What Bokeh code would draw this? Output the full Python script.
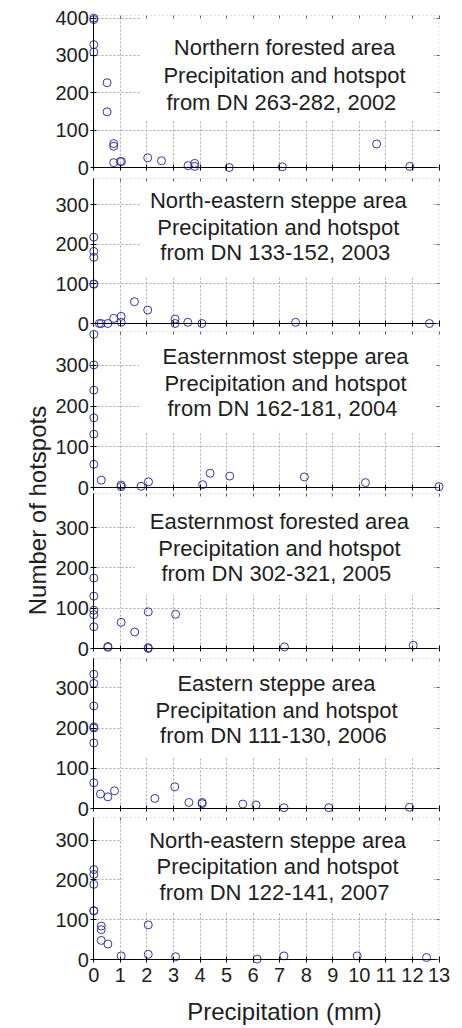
import math
from bokeh.plotting import figure
from bokeh.models import Range1d, FixedTicker, Label, BoxAnnotation, LinearAxis, Grid
from bokeh.embed import file_html
from bokeh.resources import INLINE

# ---------------- data ----------------
p1_precip = [0, 0, 0, 0, 0.5, 0.5, 0.75, 0.75, 0.75, 1.0, 1.04, 2.03, 2.55, 3.55, 3.8, 3.8, 5.1, 7.1, 10.65, 11.9]
p1_hot = [400, 396, 329, 309, 227, 149, 64, 57, 13, 16, 16, 26, 18, 5, 11, 3, 0, 2, 63, 3]

p2_precip = [0, 0, 0, 0, 0, 0.21, 0.28, 0.53, 0.75, 1.03, 1.03, 1.53, 2.03, 3.06, 3.06, 3.54, 4.07, 7.6, 12.64]
p2_hot = [218, 182, 167, 100, 99, 0, 0, 0, 13, 18, 3, 55, 34, 11, 0, 3, 0, 3, 0]

p3_precip = [0, 0, 0, 0, 0, 0, 0.28, 1.03, 1.03, 1.78, 2.06, 4.1, 4.38, 5.12, 7.93, 10.23, 13.0]
p3_hot = [376, 301, 239, 171, 131, 57, 18, 6, 2, 3, 14, 7, 35, 28, 26, 12, 2]

p4_precip = [0, 0, 0, 0, 0, 0.53, 0.53, 1.03, 1.54, 2.05, 2.05, 2.05, 3.08, 7.18, 12.03]
p4_hot = [175, 130, 95, 84, 54, 5, 3, 65, 41, 91, 2, 0, 85, 4, 8]

p5_precip = [0, 0, 0, 0, 0, 0, 0, 0.25, 0.53, 0.78, 2.3, 3.05, 3.58, 4.08, 4.08, 5.61, 6.11, 7.16, 8.85, 11.89]
p5_hot = [334, 311, 255, 203, 200, 163, 64, 36, 29, 44, 25, 54, 15, 15, 12, 11, 9, 2, 2, 3]

p6_precip = [0, 0, 0, 0, 0, 0.28, 0.28, 0.28, 0.53, 1.03, 2.05, 2.05, 3.08, 6.15, 7.16, 9.92, 12.53]
p6_hot = [226, 214, 189, 123, 122, 84, 75, 48, 39, 9, 87, 13, 7, 1, 9, 9, 5]

titles = [
    ["Northern forested area", "Precipitation and hotspot", "from DN 263-282,  2002"],
    ["North-eastern steppe area", "Precipitation and hotspot", "from DN 133-152,  2003"],
    ["Easternmost steppe area", "Precipitation and hotspot", "from DN 162-181,  2004"],
    ["Easternmost forested area", "Precipitation and hotspot", "from DN 302-321,  2005"],
    ["Eastern steppe area", "Precipitation and hotspot", "from DN 111-130,  2006"],
    ["North-eastern steppe area", "Precipitation and hotspot", "from DN 122-141,  2007"],
]

x_ticks = list(range(0, 14))
y_ticks_first = [0, 100, 200, 300, 400]
y_ticks_other = [0, 100, 200, 300]
x_label = "Precipitation (mm)"
y_label = "Number of hotspots"

series = [(p1_precip, p1_hot), (p2_precip, p2_hot), (p3_precip, p3_hot),
          (p4_precip, p4_hot), (p5_precip, p5_hot), (p6_precip, p6_hot)]

# ---------------- layout geometry (pixels) ----------------
W, H = 462, 1028
FONT = "Liberation Sans"
TXT = "#1e1e1e"
MARK = "#3535a0"
GRID = "#a8a8a8"
BORDER = "#8a8a8a"

X0_PX, X13_PX = 93.3, 438.5           # pixel of x=0 and x=13
XMAX = 13
sx = (X13_PX - X0_PX) / XMAX

# per panel: pixel of y=ymax (top), pixel of y=0, ymax
geo = [
    (15, 167, 407),
    (178, 323, 366),
    (331, 487, 383),
    (493, 648, 385),
    (658, 808, 373),
    (817, 959, 357),
]
label_x = [7.18, 6.95, 7.22, 6.99, 6.88, 6.92]
label_y = [(321, 246, 174), (310, 243, 180), (321, 255, 194),
           (316, 248, 186), (311, 244, 182), (300, 233, 168)]
boxes = [(1.8, 12.8, 125), (1.8, 12.8, 117), (1.7, 12.93, 137),
         (1.55, 12.8, 132), (1.07, 12.8, 125), (1.07, 12.8, 120)]

p = figure(width=W, height=H,
           x_range=Range1d(-X0_PX / sx, (W - X0_PX) / sx),
           y_range=Range1d(0, H),
           toolbar_location=None, output_backend="svg",
           x_axis_location=None, y_axis_location=None, min_border=0)
p.min_border_left = 0
p.min_border_right = 0
p.min_border_top = 0
p.min_border_bottom = 0
p.grid.visible = False
p.outline_line_color = None
p.background_fill_color = "white"
p.border_fill_color = "white"

extra = {}
for i, (top, zero, ymax) in enumerate(geo):
    k = (zero - top) / ymax
    extra[f"p{i}"] = Range1d(start=(zero - H) / k, end=zero / k)
p.extra_y_ranges = extra


def make_grid(dim, ticks, name, cross):
    try:
        g = Grid(dimension=dim, ticker=FixedTicker(ticks=ticks), y_range_name=name,
                 cross_bounds=cross, grid_line_color=GRID, grid_line_dash="2 2",
                 grid_line_width=1)
        p.add_layout(g)
    except Exception:
        if dim == 0:
            p.segment(x0=ticks, y0=[cross[0]] * len(ticks), x1=ticks,
                      y1=[cross[1]] * len(ticks), y_range_name=name,
                      line_color=GRID, line_dash="2 2", line_width=1, level="underlay")
        else:
            p.segment(x0=[cross[0]] * len(ticks), y0=ticks, x1=[cross[1]] * len(ticks),
                      y1=ticks, y_range_name=name,
                      line_color=GRID, line_dash="2 2", line_width=1, level="underlay")


def tick_only_axis(name, loc, bounds, ticks):
    ax = LinearAxis(y_range_name=name, fixed_location=loc, bounds=bounds,
                    ticker=FixedTicker(ticks=ticks))
    ax.axis_line_color = None
    ax.major_tick_line_color = "#666666"
    ax.major_tick_in = 3
    ax.major_tick_out = 0
    ax.minor_tick_line_color = None
    ax.minor_tick_in = 0
    ax.minor_tick_out = 0
    ax.major_label_text_color = None
    ax.major_label_text_font_size = "1px"
    ax.major_label_standoff = 0
    return ax


for i, ((xs, ys), (top, zero, ymax)) in enumerate(zip(series, geo)):
    name = f"p{i}"
    yt = y_ticks_first if i == 0 else y_ticks_other

    make_grid(0, x_ticks[1:-1], name, (0, ymax))
    make_grid(1, [t for t in yt if t > 0], name, (0, XMAX))

    bl, br, bb = boxes[i]
    p.add_layout(BoxAnnotation(left=bl, right=br, bottom=bb, top=ymax,
                               y_range_name=name,
                               fill_color="white", fill_alpha=1.0,
                               line_color=None, level="underlay"))
    p.add_layout(BoxAnnotation(left=0, right=XMAX, bottom=0, top=ymax,
                               y_range_name=name,
                               fill_color=None, fill_alpha=0,
                               line_color=BORDER, line_dash="2 2",
                               line_width=1, level="underlay"))

    # small inward ticks on the top and right borders (boxed axes)
    p.add_layout(tick_only_axis(name, ymax, (0, XMAX), x_ticks), "above")
    p.add_layout(tick_only_axis(name, XMAX, (0, ymax), yt), "right")

    p.scatter(xs, ys, marker="circle", size=8, fill_color=None,
              line_color=MARK, line_width=1, y_range_name=name)

    yax = LinearAxis(y_range_name=name, fixed_location=0, bounds=(0, ymax),
                     ticker=FixedTicker(ticks=yt))
    yax.axis_line_color = "black"
    yax.major_tick_line_color = "black"
    yax.major_tick_in = 3
    yax.major_tick_out = 3
    yax.minor_tick_line_color = None
    yax.minor_tick_in = 0
    yax.minor_tick_out = 0
    yax.major_label_standoff = 2
    yax.major_label_text_font = FONT
    yax.major_label_text_font_size = "20px"
    yax.major_label_text_color = TXT
    p.add_layout(yax, "left")

    xax = LinearAxis(y_range_name=name, fixed_location=0, bounds=(0, XMAX),
                     ticker=FixedTicker(ticks=x_ticks))
    xax.axis_line_color = "black"
    xax.major_tick_line_color = "black"
    xax.major_tick_in = 3
    xax.major_tick_out = 3
    xax.minor_tick_line_color = None
    xax.minor_tick_in = 0
    xax.minor_tick_out = 0
    if i == 5:
        xax.major_label_standoff = 5
        xax.major_label_text_font = FONT
        xax.major_label_text_font_size = "20px"
        xax.major_label_text_color = TXT
    else:
        xax.major_label_text_color = None
        xax.major_label_text_font_size = "1px"
        xax.major_label_standoff = 0
    p.add_layout(xax, "below")

    for j, txt in enumerate(titles[i]):
        p.add_layout(Label(x=label_x[i], y=label_y[i][j], text=txt,
                           y_range_name=name,
                           text_align="center", text_baseline="middle",
                           text_font=FONT, text_font_size="22px",
                           text_color=TXT))

# axis titles (positioned in pixel-based default ranges)
p.add_layout(Label(x=(37 - X0_PX) / sx, y=H - 510, text=y_label, angle=math.pi / 2,
                   text_align="center", text_baseline="middle",
                   text_font=FONT, text_font_size="24px", text_color=TXT))
p.add_layout(Label(x=(284 - X0_PX) / sx, y=H - 1011, text=x_label,
                   text_align="center", text_baseline="middle",
                   text_font=FONT, text_font_size="24px", text_color=TXT))

open("out.html", "w").write(file_html(p, INLINE))
